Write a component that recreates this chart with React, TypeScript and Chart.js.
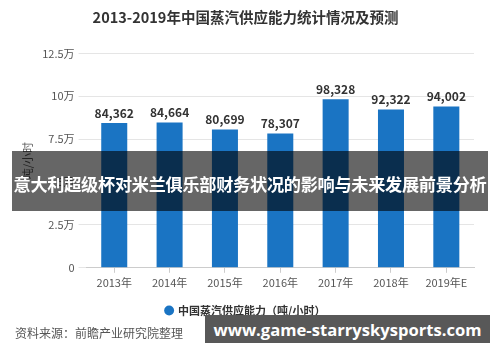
import React, { useEffect, useRef } from "react";
import { Chart, registerables } from "chart.js";

Chart.register(...registerables);

const chartTitle = "2013-2019年中国蒸汽供应能力统计情况及预测";
const categories = ["2013年", "2014年", "2015年", "2016年", "2017年", "2018年", "2019年E"];
const capacity = [84362, 84664, 80699, 78307, 98328, 92322, 94002];
const seriesName = "中国蒸汽供应能力（吨/小时）";
const yTickValues = [0, 25000, 50000, 75000, 100000, 125000];
const yTickLabels = ["0", "2.5万", "5万", "7.5万", "10万", "12.5万"];
const yAxisTitle = "吨/小时";
const sourceText = "资料来源：前瞻产业研究院整理";
const bannerText = "意大利超级杯对米兰俱乐部财务状况的影响与未来发展前景分析";
const siteText = "www.game-starryskysports.com";

const FONT = '"Noto Sans CJK SC", "Noto Sans", sans-serif';

const valueLabels = {
  id: "valueLabels",
  afterDatasetsDraw(chart: any) {
    const ctx = chart.ctx;
    const meta = chart.getDatasetMeta(0);
    meta.data.forEach((bar: any, i: number) => {
      ctx.save();
      ctx.font = `bold 12px ${FONT}`;
      ctx.fillStyle = "#333333";
      ctx.textAlign = "center";
      ctx.textBaseline = "bottom";
      ctx.fillText(capacity[i].toLocaleString("en-US"), bar.x, bar.y - 4);
      ctx.restore();
    });
  },
};

export default function App() {
  const ref = useRef<HTMLCanvasElement>(null);

  useEffect(() => {
    if (!ref.current) return;
    const chart = new Chart(ref.current, {
      type: "bar",
      data: {
        labels: categories,
        datasets: [
          {
            label: seriesName,
            data: capacity,
            backgroundColor: "#1a74c3",
            borderWidth: 0,
            barPercentage: 0.47,
            categoryPercentage: 1,
          },
        ],
      },
      options: {
        responsive: false,
        animation: false,
        layout: { padding: { left: 17, right: 26, top: 0, bottom: 36 } },
        plugins: {
          title: {
            display: true,
            text: chartTitle,
            color: "#333333",
            font: { family: FONT, size: 14.5, weight: "bold" },
            padding: { top: 9, bottom: 27 },
          },
          legend: {
            display: true,
            position: "bottom",
            labels: {
              usePointStyle: true,
              pointStyle: "circle",
              boxWidth: 7,
              boxHeight: 7,
              color: "#333333",
              font: { family: FONT, size: 11, weight: "bold" },
              padding: 13,
            },
          },
          tooltip: { enabled: false },
        },
        scales: {
          x: {
            grid: {
              display: true,
              drawOnChartArea: false,
              drawTicks: true,
              offset: false,
              tickLength: 5,
              color: "#cccccc",
            },
            border: { display: true, color: "#cccccc" },
            ticks: {
              color: "#555555",
              font: { family: FONT, size: 11 },
              padding: 3,
            },
          },
          y: {
            min: 0,
            max: 125000,
            afterBuildTicks(scale: any) {
              scale.ticks = yTickValues.map((v) => ({ value: v }));
            },
            ticks: {
              color: "#555555",
              font: { family: FONT, size: 11 },
              padding: 4,
              callback: (v: any) => {
                const idx = yTickValues.indexOf(Number(v));
                return idx >= 0 ? yTickLabels[idx] : "";
              },
            },
            grid: { color: "#e5e5e5", tickLength: 8 },
            border: { display: false },
            title: {
              display: true,
              text: yAxisTitle,
              color: "#555555",
              font: { family: FONT, size: 11 },
            },
          },
        },
      },
      plugins: [valueLabels],
    });
    return () => chart.destroy();
  }, []);

  return (
    <div
      style={{
        position: "absolute",
        left: 0,
        top: 0,
        width: 500,
        height: 362,
        background: "#ffffff",
        overflow: "hidden",
      }}
    >
      <canvas ref={ref} width={500} height={362} style={{ display: "block" }} />
      <div
        style={{
          position: "absolute",
          left: 15,
          top: 324,
          fontFamily: FONT,
          fontSize: 12,
          color: "#555555",
          lineHeight: "18px",
          whiteSpace: "nowrap",
        }}
      >
        {sourceText}
      </div>
      <div
        style={{
          position: "absolute",
          left: 12,
          top: 151,
          width: 476,
          height: 60,
          background: "rgba(0,0,0,0.6)",
          color: "#ffffff",
          fontFamily: FONT,
          fontWeight: "bold",
          fontSize: 17.2,
          letterSpacing: "-0.3px",
          display: "flex",
          alignItems: "center",
          justifyContent: "center",
          paddingTop: 5,
          boxSizing: "border-box",
          whiteSpace: "nowrap",
        }}
      >
        {bannerText}
      </div>
      <div
        style={{
          position: "absolute",
          left: 205,
          top: 315,
          width: 285,
          height: 28,
          background: "#585858",
          color: "#ffffff",
          fontFamily: '"Open Sans", "DejaVu Sans", sans-serif',
          fontWeight: "bold",
          fontSize: 16.6,
          display: "flex",
          alignItems: "center",
          justifyContent: "center",
          whiteSpace: "nowrap",
        }}
      >
        {siteText}
      </div>
    </div>
  );
}
